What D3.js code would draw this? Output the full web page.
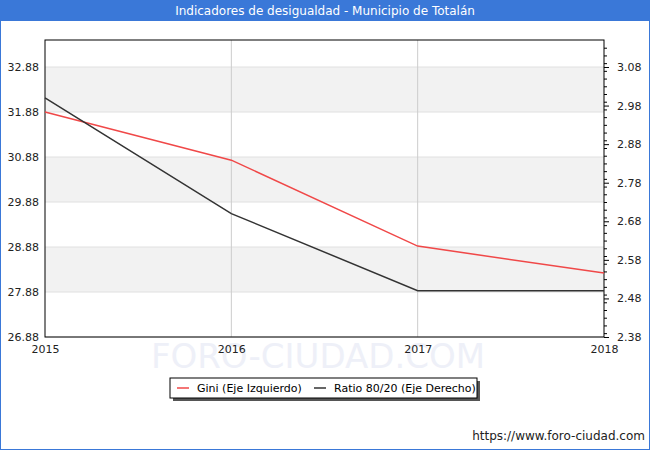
<!DOCTYPE html>
<html><head><meta charset="utf-8">
<script src="https://cdn.jsdelivr.net/npm/d3@7"></script>
<style>body{margin:0;font-family:"DejaVu Sans",sans-serif;}</style>
</head><body>
<script>
const years = [2015, 2016, 2017, 2018];
const gini = [31.88, 30.81, 28.90, 28.30];
const ratio = [3.00, 2.70, 2.50, 2.50];
const leftTicks = [26.88, 27.88, 28.88, 29.88, 30.88, 31.88, 32.88];
const rightTicks = [2.38, 2.48, 2.58, 2.68, 2.78, 2.88, 2.98, 3.08];

const W = 650, H = 450;
const m = {l: 45, r: 604, t: 40, b: 337};
const svg = d3.select("body").append("svg").attr("width", W).attr("height", H)
  .style("font-family", "DejaVu Sans, sans-serif");
svg.append("rect").attr("width", W).attr("height", H).attr("fill", "#fff");
// border
svg.append("rect").attr("x", 0.5).attr("y", 0.5).attr("width", W - 1).attr("height", H - 1)
  .attr("fill", "none").attr("stroke", "#3a78d8");
svg.append("rect").attr("width", W).attr("height", 21).attr("fill", "#3a78d8");
svg.append("text").attr("x", W / 2).attr("y", 15).attr("text-anchor", "middle")
  .attr("fill", "#fff").attr("font-size", 12).text("Indicadores de desigualdad - Municipio de Totalán");

const x = d3.scaleLinear().domain([2015, 2018]).range([m.l, m.r]);
const yL = d3.scaleLinear().domain([26.88, 26.88 + 297 / 45]).range([m.b, m.t]);
const yR = d3.scaleLinear().domain([2.38, 2.38 + 297 / 270 * 0.7]).range([m.b, m.t]);

// bands
for (let i = 0; i < leftTicks.length - 1; i++) {
  if (i % 2 === 1) {
    svg.append("rect").attr("x", m.l).attr("width", m.r - m.l)
      .attr("y", yL(leftTicks[i + 1])).attr("height", yL(leftTicks[i]) - yL(leftTicks[i + 1]))
      .attr("fill", "#f2f2f2");
  }
}
leftTicks.forEach(t => svg.append("line").attr("x1", m.l).attr("x2", m.r)
  .attr("y1", yL(t)).attr("y2", yL(t)).attr("stroke", "#e0e0e0"));
years.slice(1, -1).forEach(y => svg.append("line").attr("x1", x(y)).attr("x2", x(y))
  .attr("y1", m.t).attr("y2", m.b).attr("stroke", "#ccc"));

svg.append("text").attr("x", 318).attr("y", 368).attr("text-anchor", "middle")
  .attr("font-size", 34).attr("fill", "#eef0f8").text("FORO-CIUDAD.COM");

svg.append("rect").attr("x", m.l).attr("y", m.t).attr("width", m.r - m.l).attr("height", m.b - m.t)
  .attr("fill", "none").attr("stroke", "#000");

const axL = svg.append("g").attr("transform", `translate(${m.l},0)`)
  .call(d3.axisLeft(yL).tickValues(leftTicks).tickFormat(d3.format(".2f")).tickSize(0).tickPadding(6));
const axR = svg.append("g").attr("transform", `translate(${m.r},0)`)
  .call(d3.axisRight(yR).tickValues(rightTicks).tickFormat(d3.format(".2f")).tickSize(5).tickPadding(8));
svg.append("g").attr("transform", `translate(${m.r},0)`)
  .call(d3.axisRight(yR).tickValues(d3.range(2.39, 3.15, 0.02)).tickFormat("").tickSize(3))
  .select(".domain").remove();
const axB = svg.append("g").attr("transform", `translate(0,${m.b})`)
  .call(d3.axisBottom(x).tickValues(years).tickFormat(d3.format("d")).tickSize(0).tickPadding(8));
[axL, axR, axB].forEach(a => { a.select(".domain").remove(); a.selectAll("text").attr("font-size", 11).attr("fill", "#222").style("font-family", "DejaVu Sans, sans-serif"); });

const lineL = d3.line().x((d, i) => x(years[i])).y(d => yL(d));
const lineR = d3.line().x((d, i) => x(years[i])).y(d => yR(d));
svg.append("path").datum(gini).attr("d", lineL).attr("fill", "none").attr("stroke", "#f04848").attr("stroke-width", 1.5);
svg.append("path").datum(ratio).attr("d", lineR).attr("fill", "none").attr("stroke", "#333").attr("stroke-width", 1.5);

// legend
svg.append("rect").attr("x", 173).attr("y", 381).attr("width", 307).attr("height", 20).attr("fill", "#555");
svg.append("rect").attr("x", 170).attr("y", 378).attr("width", 307).attr("height", 20).attr("fill", "#fff").attr("stroke", "#000");
[["Gini (Eje Izquierdo)", "#f04848", 177], ["Ratio 80/20 (Eje Derecho)", "#333", 314]].forEach(([t, c, lx]) => {
  svg.append("line").attr("x1", lx).attr("x2", lx + 12).attr("y1", 388).attr("y2", 388).attr("stroke", c).attr("stroke-width", 1.5);
  svg.append("text").attr("x", lx + 20).attr("y", 392).attr("font-size", 11).attr("fill", "#000").text(t);
});
svg.append("text").attr("x", 645).attr("y", 440).attr("text-anchor", "end").attr("font-size", 12)
  .attr("fill", "#222").text("https://www.foro-ciudad.com");
</script>
</body></html>
